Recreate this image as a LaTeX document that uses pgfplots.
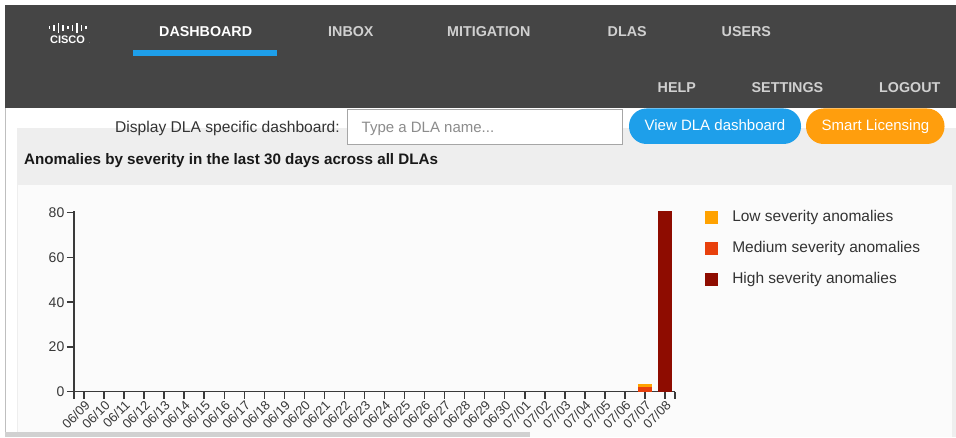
\documentclass[border=0pt]{standalone}
\usepackage{pgfplots}
\usepackage{pgfplotstable}
\pgfplotsset{compat=1.18}
\usepackage{fontspec}
\setmainfont{Liberation Sans}
\definecolor{hdr}{HTML}{454545}
\definecolor{navgray}{HTML}{D0D0D0}
\definecolor{cblue}{HTML}{1E9FEA}
\definecolor{corange}{HTML}{FF9E0D}
\definecolor{panel}{HTML}{EEEEEE}
\definecolor{chartbg}{HTML}{FBFBFB}
\definecolor{lowc}{HTML}{FFA200}
\definecolor{medc}{HTML}{E8400C}
\definecolor{highc}{HTML}{8E0C00}
\definecolor{txt}{HTML}{333333}
\definecolor{axc}{HTML}{3A3A3A}
\pgfplotstableread{
x high medium low
0 0 0 0
1 0 0 0
2 0 0 0
3 0 0 0
4 0 0 0
5 0 0 0
6 0 0 0
7 0 0 0
8 0 0 0
9 0 0 0
10 0 0 0
11 0 0 0
12 0 0 0
13 0 0 0
14 0 0 0
15 0 0 0
16 0 0 0
17 0 0 0
18 0 0 0
19 0 0 0
20 0 0 0
21 0 0 0
22 0 0 0
23 0 0 0
24 0 0 0
25 0 0 0
26 0 0 0
27 0 0 0
28 0 2 1.5
29 81 0 0
}\anomalies
\begin{document}
\begin{tikzpicture}[x=1pt,y=1pt]
\useasboundingbox (0,0) rectangle (956,437);
\fill[white] (0,0) rectangle (956,437);
% left frame line
\draw[line width=1pt,black!25] (5.5,0) -- (5.5,330);
% header
\fill[hdr] (5,329) rectangle (956,432);
% cisco logo
\foreach \i/\h in {0/3,1/6,2/10,3/6,4/3,5/6,6/10,7/6,8/3}{
  \fill[white] ({48.5+\i*4.6},{409-\h/2}) rectangle ({50.2+\i*4.6},{409+\h/2});
}
\node[anchor=base,white,inner sep=0pt,font=\fontsize{11}{12}\selectfont\bfseries] at (67.5,393) {CISCO};
\node[anchor=base,white,inner sep=0pt,font=\fontsize{4}{4}\selectfont] at (90,393) {.};
% nav
\begin{scope}[every node/.style={anchor=base west,inner sep=0pt,font=\fontsize{14.3}{16}\selectfont\bfseries}]
\node[white] at (159,400) {DASHBOARD};
\node[navgray] at (328,400) {INBOX};
\node[navgray] at (447,400) {MITIGATION};
\node[navgray] at (607.5,400) {DLAS};
\node[navgray] at (721.5,400) {USERS};
\node[navgray] at (657.5,344.5) {HELP};
\node[navgray] at (751.5,344.5) {SETTINGS};
\node[navgray] at (879,344.5) {LOGOUT};
\end{scope}
\fill[cblue] (133,381) rectangle (277,387);
% panels
\fill[panel] (17,0) rectangle (956,309);
\fill[chartbg] (17.5,0) rectangle (952,252);
\fill[black!18] (5,0) rectangle (530,5);
% controls
\node[anchor=base east,inner sep=0pt,txt,font=\fontsize{15.6}{17}\selectfont] at (340,304) {Display DLA specific dashboard:};
\draw[fill=white,draw=black!35,line width=0.8pt] (347,293) rectangle (622.5,328);
\node[anchor=base west,inner sep=0pt,black!45,font=\fontsize{15}{17}\selectfont] at (361.5,304) {Type a DLA name...};
\fill[cblue,rounded corners=17.5pt] (629,293) rectangle (801,328.5);
\node[anchor=base,inner sep=0pt,white,font=\fontsize{15}{17}\selectfont] at (715,306) {View DLA dashboard};
\fill[corange,rounded corners=17.5pt] (806,293) rectangle (944.5,328.5);
\node[anchor=base,inner sep=0pt,white,font=\fontsize{15}{17}\selectfont] at (875.5,306) {Smart Licensing};
% title
\node[anchor=base west,inner sep=0pt,black!90,font=\fontsize{15.2}{17}\selectfont\bfseries] at (24,272) {Anomalies by severity in the last 30 days across all DLAs};
% chart
\begin{axis}[
  at={(74pt,45.3pt)}, anchor=south west,
  scale only axis, width=601pt, height=181.2pt,
  xmin=-0.5, xmax=29.5, ymin=0, ymax=81,
  axis x line*=bottom, axis y line*=left,
  axis line style={draw=axc,line width=1.5pt,-},
  ybar stacked, bar width=14pt,
  xtick={0,...,29},
  xticklabels={06/09,06/10,06/11,06/12,06/13,06/14,06/15,06/16,06/17,06/18,06/19,06/20,06/21,06/22,06/23,06/24,06/25,06/26,06/27,06/28,06/29,06/30,07/01,07/02,07/03,07/04,07/05,07/06,07/07,07/08},
  extra x ticks={-0.5,29.5}, extra x tick labels={},
  ytick={0,20,40,60,80},
  tick align=outside, major tick length=7pt,
  tick style={draw=axc,line width=1.5pt},
  xtick pos=bottom, ytick pos=left,
  /pgf/number format/assume math mode=true,
  x tick label style={rotate=45,anchor=north east,font=\fontsize{13}{14}\selectfont,text=black!78,inner sep=0.5pt},
  y tick label style={font=\fontsize{14}{15}\selectfont,text=black!78,inner sep=2.5pt},
  legend style={at={(1.05,1.0)},anchor=north west,draw=none,fill=none,
    row sep=18pt,column sep=14pt,inner sep=0pt,
    nodes={inner sep=0pt,text=txt,font=\fontsize{15.5}{17}\selectfont,text height=10.5pt,text depth=2.5pt}},
  legend cell align=left,
  reverse legend,
  legend image code/.code={\fill[#1] (0pt,-6.5pt) rectangle (13pt,6.5pt);},
]
\addplot[fill=highc,draw=none] table[x=x,y=high] {\anomalies};
\addlegendentry{High severity anomalies}
\addplot[fill=medc,draw=none] table[x=x,y=medium] {\anomalies};
\addlegendentry{Medium severity anomalies}
\addplot[fill=lowc,draw=none] table[x=x,y=low] {\anomalies};
\addlegendentry{Low severity anomalies}
\end{axis}
\end{tikzpicture}
\end{document}
